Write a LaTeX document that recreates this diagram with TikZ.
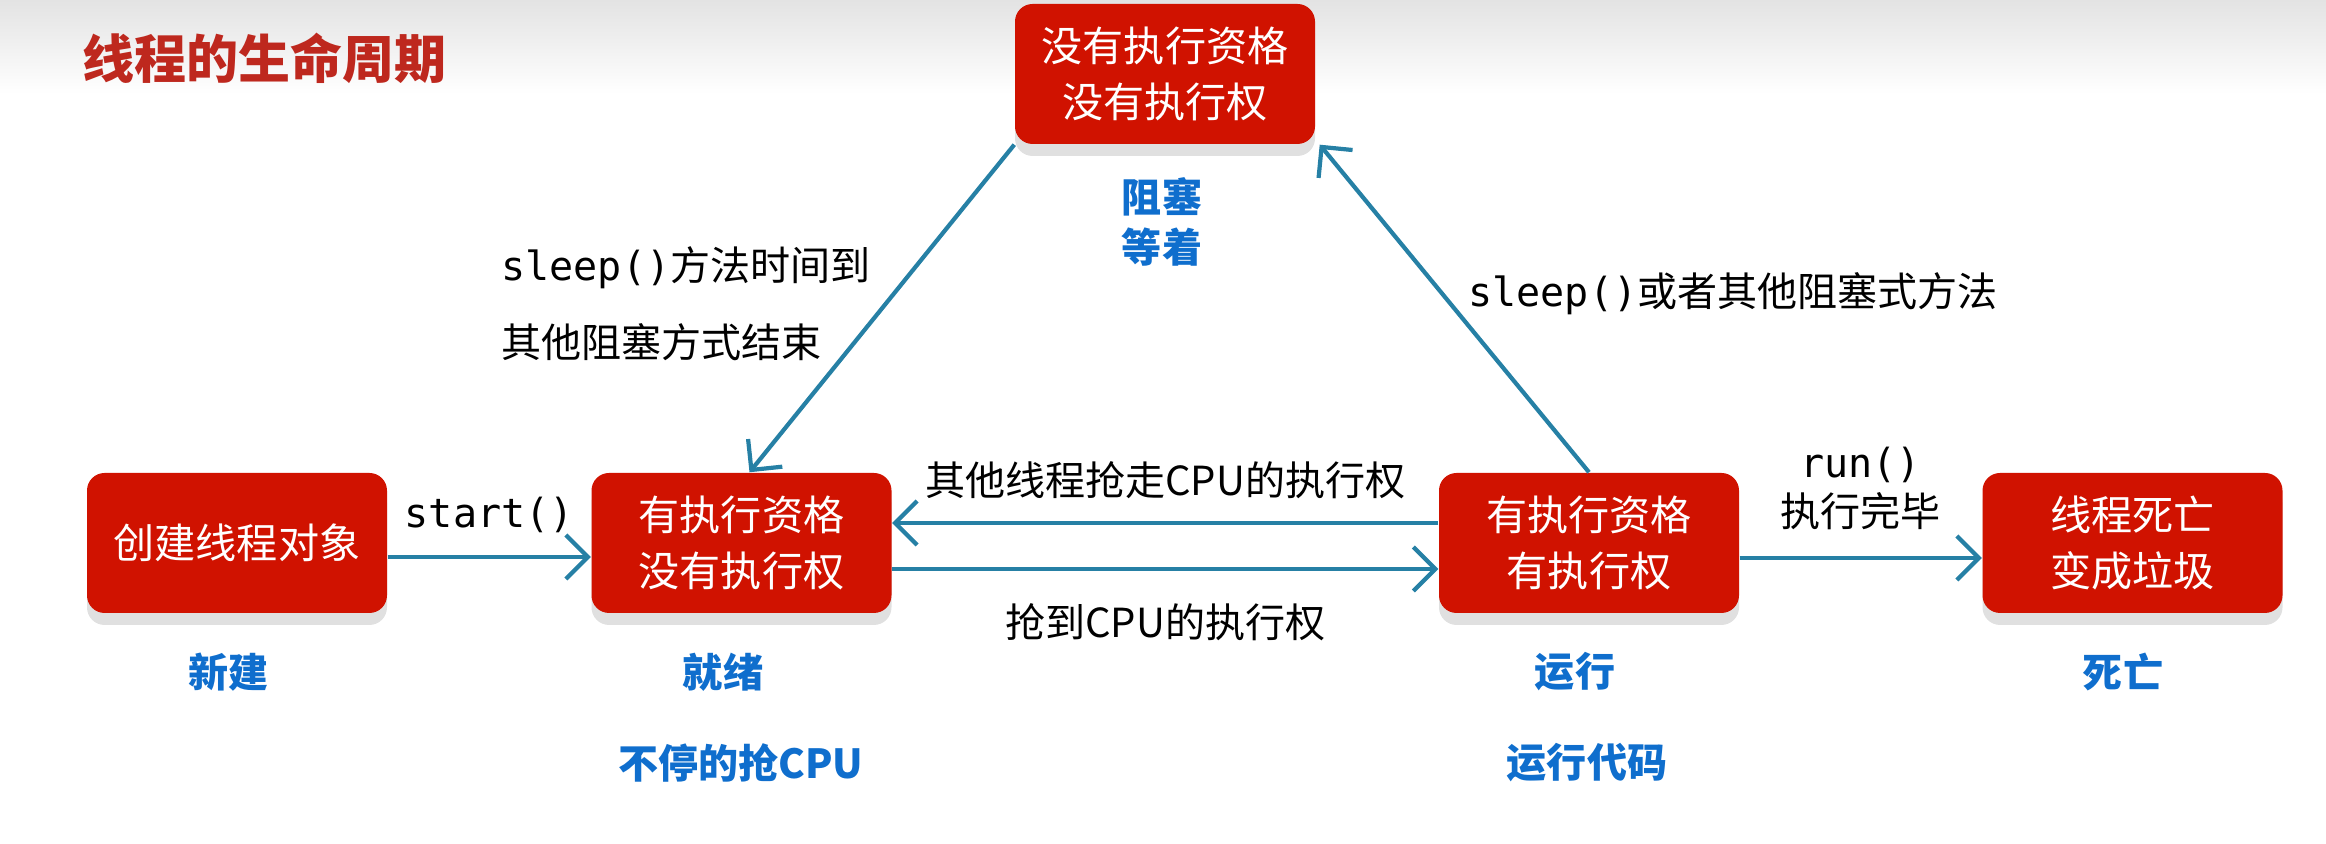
\documentclass[tikz,border=0pt]{standalone}
\usepackage{fontspec}
\setmainfont{Noto Sans CJK SC}
\setmonofont{DejaVu Sans Mono}
\newfontfamily\heavyfont{Noto Sans CJK SC Black}
\definecolor{boxred}{RGB}{208,18,0}
\definecolor{titlered}{RGB}{190,40,30}
\definecolor{tagblue}{RGB}{15,110,205}
\definecolor{flowteal}{RGB}{38,128,165}
\usetikzlibrary{positioning, arrows.meta, shadows}

\begin{document}
\begin{tikzpicture}[
  state/.style={fill=boxred, text=white, rounded corners=5pt,
    minimum width=3.0cm, minimum height=1.4cm, align=center,
    font=\fontsize{11.7}{16}\selectfont,
    drop shadow={shadow xshift=0pt, shadow yshift=-1.2mm,
      fill=black!12, opacity=1}},
  tag/.style={text=tagblue, align=center,
    font=\heavyfont\fontsize{11.4}{14}\selectfont},
  note/.style={font=\fontsize{11.4}{14}\selectfont, align=center},
  flow/.style={draw=flowteal, line width=1.2pt,
    -{Straight Barb[length=2.2mm, width=4.4mm]}},
]
% Page and header shading
\useasboundingbox (0,0) rectangle (23.26,8.44);
\fill[top color=black!11, bottom color=white] (0,7.50) rectangle (23.26,8.44);
\node[anchor=west, text=titlered, font=\bfseries\fontsize{14.8}{18}\selectfont]
  (title) at (0.70,7.86) {线程的生命周期};

% States
\node[state] (blk)   at (11.65,7.70) {没有执行资格\\没有执行权};
\node[state] (new)   at (2.37,3.01)  {创建线程对象};
\node[state] (ready) at (7.415,3.01) {有执行资格\\没有执行权};
\node[state] (run)   at (15.89,3.01) {有执行资格\\有执行权};
\node[state] (dead)  at (21.325,3.01) {线程死亡\\变成垃圾};

% State names
\node[tag] (blktag)   at (11.62,6.22) {阻塞\\等着};
\node[tag] (newtag)   at (2.29,1.72)  {新建};
\node[tag] (readytag) at (7.23,1.72)  {就绪};
\node[tag] (runtag)   at (15.75,1.72) {运行};
\node[tag] (deadtag)  at (21.23,1.72) {死亡};
\node[tag] (readydo)  at (7.41,0.81)  {不停的抢CPU};
\node[tag] (rundo)    at (15.87,0.81) {运行代码};

% Transitions
\draw[flow] ([yshift=-1.4mm]new.east) -- ([yshift=-1.4mm]ready.west)
  node[note, midway, above=3pt] (startlbl) {\texttt{start()}};
\draw[flow] ([yshift=2.0mm]run.west) -- ([yshift=2.0mm]ready.east)
  node[note, midway, above=3pt] (lostlbl) {其他线程抢走CPU的执行权};
\draw[flow] ([yshift=-2.6mm]ready.east) -- ([yshift=-2.6mm]run.west)
  node[note, midway, below=6pt] (gotlbl) {抢到CPU的执行权};
\draw[flow] ([yshift=-1.5mm]run.east) -- ([yshift=-1.5mm]dead.west)
  node[note, midway, above=4pt] (donelbl) {\texttt{run()}\\执行完毕};
\draw[flow] (blk.south west) -- ([xshift=0.8mm]ready.north);
\draw[flow] (run.north) -- ([xshift=0.4mm]blk.south east);

% Notes on the blocking edges
\node[note, anchor=west] (wake1) at (4.89,5.76) {\texttt{sleep()}方法时间到};
\node[note, anchor=west] (wake2) at (4.89,5.02) {其他阻塞方式结束};
\node[note, anchor=west] (sleeplbl) at (14.56,5.50) {\texttt{sleep()}或者其他阻塞式方法};
\end{tikzpicture}
\end{document}
